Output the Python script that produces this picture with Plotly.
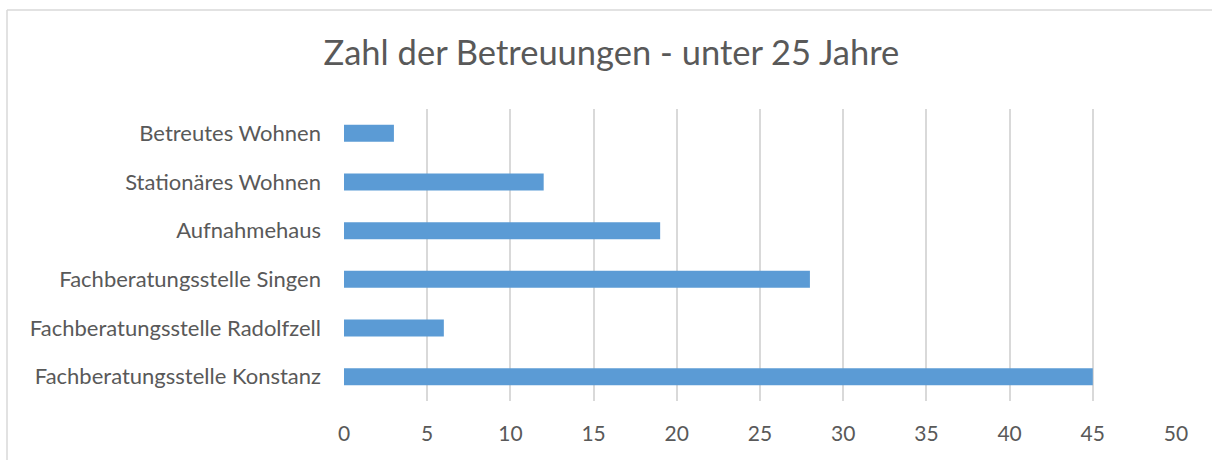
import plotly.graph_objects as go

# Anzahl der Betreuungen (unter 25 Jahre) je Einrichtung
categories = [
    "Fachberatungsstelle Konstanz",
    "Fachberatungsstelle Radolfzell",
    "Fachberatungsstelle Singen",
    "Aufnahmehaus",
    "Stationäres Wohnen",
    "Betreutes Wohnen",
]
values = [45, 6, 28, 19, 12, 3]
x_ticks = [0, 5, 10, 15, 20, 25, 30, 35, 40, 45, 50]

W, H = 1212, 460
ML, MR, MT, MB = 344, 36, 109, 59
FONT = "Lato"
TEXT = "#595959"
GRID = "#D9D9D9"

fig = go.Figure(
    go.Bar(
        y=categories,
        x=values,
        orientation="h",
        marker=dict(color="#5B9BD5", line=dict(width=0)),
        hoverinfo="x+y",
    )
)

plot_w = W - ML - MR
plot_h = H - MT - MB
# outer frame of the chart (left and top edges visible)
bx = (7 - ML) / plot_w
by = 1 + (MT - 10) / plot_h

fig.update_layout(
    width=W,
    height=H,
    margin=dict(l=ML, r=MR, t=MT, b=MB),
    paper_bgcolor="white",
    plot_bgcolor="white",
    bargap=0.65,
    showlegend=False,
    font=dict(family=FONT, color=TEXT, size=21),
    title=dict(
        text="Zahl der Betreuungen - unter 25 Jahre",
        x=0.5045,
        xanchor="center",
        y=1 - 53 / H,
        yanchor="middle",
        font=dict(family=FONT, size=34.5, color=TEXT),
    ),
    xaxis=dict(
        range=[0, 50],
        tickvals=x_ticks,
        showgrid=True,
        gridcolor=GRID,
        gridwidth=1.5,
        zeroline=False,
        showline=False,
        ticks="",
        ticklabelstandoff=18,
        tickfont=dict(size=21, color=TEXT),
        fixedrange=True,
    ),
    yaxis=dict(
        categoryorder="array",
        categoryarray=categories,
        showgrid=False,
        zeroline=False,
        showline=False,
        ticks="",
        ticklabelstandoff=22,
        tickfont=dict(size=22, color=TEXT),
        fixedrange=True,
    ),
    shapes=[
        dict(type="line", xref="paper", yref="paper", x0=bx, x1=1 + (MR + 5) / plot_w,
             y0=by, y1=by, line=dict(color=GRID, width=1.5)),
        dict(type="line", xref="paper", yref="paper", x0=bx, x1=bx,
             y0=by, y1=-(MB + 5) / plot_h, line=dict(color=GRID, width=1.5)),
    ],
)

fig.write_html("out.html", config={"displayModeBar": False})
